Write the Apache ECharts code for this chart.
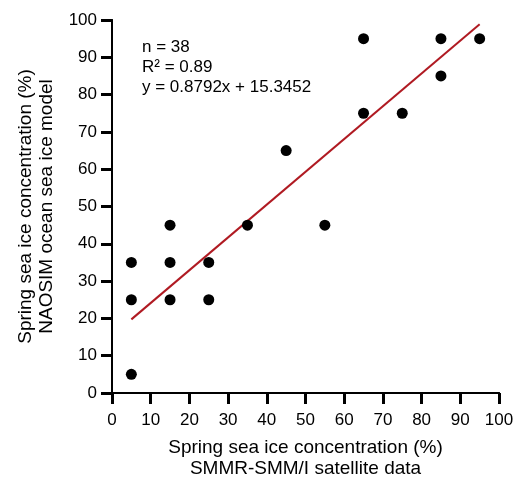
<!DOCTYPE html>
<html>
<head>
<meta charset="utf-8">
<script src="https://cdn.jsdelivr.net/npm/echarts@6/dist/echarts.min.js"></script>
<style>
html,body{margin:0;padding:0;background:#fff;}
#chart{width:526px;height:484px;}
</style>
</head>
<body>
<div id="chart"></div>
<script>
// Observed points (satellite %, model %)
const satellite = [5, 5, 5, 15, 15, 15, 25, 25, 35, 45, 55, 65, 65, 75, 85, 85, 95];
const model     = [5, 25, 35, 25, 35, 45, 25, 35, 45, 65, 45, 75, 95, 75, 85, 95, 95];
// Regression fit
const slope = 0.8792;
const intercept = 15.3452;
const fitRange = [5, 95];
const tickValues = [0, 10, 20, 30, 40, 50, 60, 70, 80, 90, 100];
const statsLines = ['n = 38', 'R\u00B2 = 0.89', 'y = 0.8792x + 15.3452'];

const FONT = 'Liberation Sans, Arial, Helvetica, sans-serif';
const points = satellite.map((x, i) => [x, model[i]]);
const fitLine = fitRange.map(x => [x, slope * x + intercept]);

function makeAxis(name, nameGap, labelMargin) {
  return {
    type: 'value',
    min: tickValues[0],
    max: tickValues[tickValues.length - 1],
    interval: 10,
    name: name,
    nameLocation: 'middle',
    nameGap: nameGap,
    nameTextStyle: { color: '#000', fontSize: 19, fontFamily: FONT, lineHeight: 21 },
    axisLine: { show: true, lineStyle: { color: '#000', width: 2 } },
    axisTick: { show: true, length: 11, lineStyle: { color: '#000', width: 3 } },
    splitLine: { show: false },
    axisLabel: { color: '#000', fontSize: 17, fontFamily: FONT, margin: labelMargin }
  };
}
// Plain companion axis on the same scale that only draws the tick marks
function tickAxis(position) {
  return {
    type: 'value',
    position: position,
    min: tickValues[0],
    max: tickValues[tickValues.length - 1],
    interval: 10,
    axisLine: { show: true, lineStyle: { color: '#000', width: 2 } },
    axisTick: { show: true, length: 10, lineStyle: { color: '#000', width: 2 } },
    axisLabel: { show: false },
    splitLine: { show: false }
  };
}

const chart = echarts.init(document.getElementById('chart'));
chart.setOption({
  animation: false,
  backgroundColor: '#fff',
  grid: { left: 112, right: 27, top: 20, bottom: 87 },
  title: {
    left: 137, top: 32,
    text: statsLines.join('\n'),
    textStyle: { color: '#000', fontSize: 17, fontWeight: 'normal', fontFamily: FONT, lineHeight: 20 }
  },
  xAxis: [
    makeAxis('Spring sea ice concentration (%)\nSMMR-SMM/I satellite data', 44, 19),
    tickAxis('bottom')
  ],
  yAxis: [
    makeAxis('Spring sea ice concentration (%)\nNAOSIM ocean sea ice model', 54, 15),
    tickAxis('left')
  ],
  series: [
    {
      type: 'scatter',
      data: points,
      symbol: 'circle',
      symbolSize: 11,
      itemStyle: { color: '#000', opacity: 1 },
      z: 3
    },
    {
      type: 'line',
      data: fitLine,
      showSymbol: false,
      symbol: 'none',
      lineStyle: { color: '#b01a22', width: 2 },
      z: 2
    }
  ]
});
</script>
</body>
</html>
